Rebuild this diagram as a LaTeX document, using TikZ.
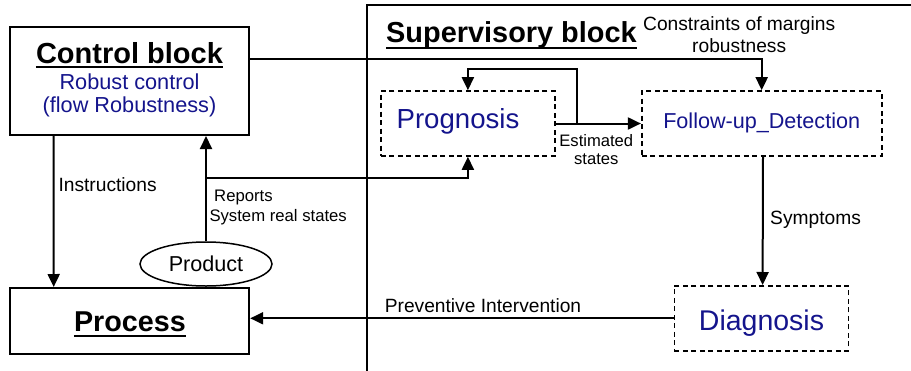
\documentclass[tikz,border=0pt]{standalone}
\usepackage{fontspec}
\setmainfont{Liberation Sans}
\usetikzlibrary{arrows.meta,shapes.geometric}
\definecolor{navy}{RGB}{20,20,140}
\newcommand{\fsize}[1]{\fontsize{#1}{#1}\selectfont}

\begin{document}
\begin{tikzpicture}[x=1pt,y=-1pt,
	blockbox/.style={draw,line width=2pt,inner sep=0pt},
	dashbox/.style={draw,line width=1.6pt,dash pattern=on 5pt off 3.5pt,inner sep=0pt},
	txt/.style={anchor=base,inner sep=0pt},
	lbl/.style={txt,font=\fsize{19.2}},
	arr/.style={line width=2pt,-{Triangle[length=13pt,width=12pt]}}]
	% canvas
	\useasboundingbox (0,0) rectangle (911,370);
	
	% blocks
	\node[blockbox,minimum width=239,minimum height=108] (ctl) at (129.5,81) {};
	\node[blockbox,minimum width=239,minimum height=66] (proc) at (129.7,321) {};
	\node[dashbox,minimum width=174,minimum height=65] (prog) at (467.9,123.5) {};
	\node[dashbox,minimum width=240,minimum height=65] (fol) at (761.7,123.5) {};
	\node[dashbox,minimum width=174,minimum height=65] (diag) at (761.3,318.3) {};
	\node[draw,ellipse,line width=1.5pt,minimum width=132,minimum height=44,inner sep=0pt,font=\fsize{21.6}] (prod) at (206,264) {Product};
	
	% supervisory frame
	\draw[line width=1.6pt] (366.7,375) |- (915,5);
	
	% titles
	\node[txt,font=\fsize{29}\bfseries] (ctltitle) at (129.5,63) {Control block};
	\draw[line width=2pt] ([yshift=-4pt]ctltitle.base west) -- ([yshift=-4pt]ctltitle.base east);
	\node[txt,font=\fsize{21.7},text=navy] (ctl1) at (129.5,89) {Robust control};
	\node[txt,font=\fsize{21.7},text=navy] (ctl2) at (129.5,112.5) {(flow Robustness)};
	\node[txt,font=\fsize{28.7}\bfseries] (proctitle) at (129.9,331.7) {Process};
	\draw[line width=2pt] ([yshift=-4.5pt]proctitle.base west) -- ([yshift=-4.5pt]proctitle.base east);
	\node[txt,anchor=base west,font=\fsize{28.9}\bfseries] (suptitle) at (386,42.7) {Supervisory block};
	\draw[line width=2pt] ([yshift=-5.6pt]suptitle.base west) -- ([yshift=-5.6pt]suptitle.base east);
	
	% blue labels
	\node[txt,font=\fsize{27.6},text=navy] (progtxt) at (458,128.3) {Prognosis};
	\node[txt,font=\fsize{21.6},text=navy] (foltxt) at (761.7,128.3) {Follow-up\_Detection};
	\node[txt,font=\fsize{28.5},text=navy] (diagtxt) at (761.5,330) {Diagnosis};
	
	% connectors
	\coordinate (rep) at (206,177.7);
	\coordinate (loop) at (577.3,123.5);
	\draw[arr] ([yshift=22pt]ctl.east) -| (fol.north);
	\draw[arr] ([xshift=-76pt]ctl.south) -- ([xshift=-76pt]proc.north);
	\draw[arr] (prod.north) -- (prod.north |- ctl.south);
	\draw[arr] (rep) -| (prog.south);
	\draw[arr] (prog.east) -- (fol.west);
	\draw[arr] (loop) |- ([yshift=21pt]prog.north) -- (prog.north);
	\draw[arr] ([xshift=1.3pt]fol.south) -- ([xshift=1.3pt]diag.north);
	\draw[arr] (diag.west) -- (diag.west -| proc.east);
	
	% black labels (base = last line)
	\node[txt,align=center,font=\fontsize{19.2}{22}\selectfont] (cons) at (739.2,52.7) {Constraints of margins\\robustness};
	\node[txt,align=center,font=\fontsize{16.6}{17.6}\selectfont] (est) at (596.3,164.3) {Estimated\\states};
	\node[lbl,anchor=base west] (instr) at (58.3,191) {Instructions};
	\node[txt,anchor=base west,font=\fsize{16.7}] (rep1) at (214,201) {Reports};
	\node[txt,anchor=base west,font=\fsize{16.7}] (rep2) at (209.3,221) {System real states};
	\node[lbl,anchor=base west] (symp) at (770,224) {Symptoms};
	\node[lbl] (prev) at (483,312.5) {Preventive Intervention};
\end{tikzpicture}
\end{document}
